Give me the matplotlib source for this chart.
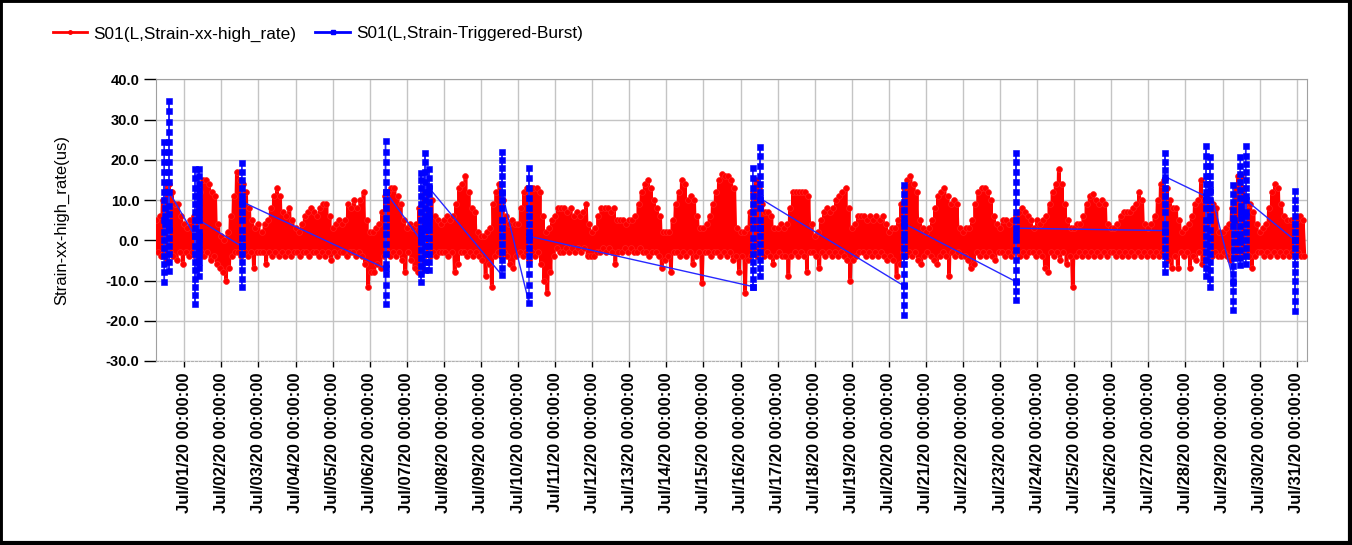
import matplotlib
matplotlib.use('Agg')
import matplotlib.pyplot as plt
import matplotlib.dates as mdates
from matplotlib.lines import Line2D
from matplotlib.patches import Rectangle
from datetime import datetime, timedelta

plt.rcParams['font.family'] = ['Liberation Sans', 'DejaVu Sans']

# --- red series: hourly readings, high at even hours / low at odd hours ---
red_start = datetime(2020, 6, 30, 6)
red_hi = [
    [5, 6, 10, 14, 14, 12, 9, 9, 6],                  # Jun 30 (from 06:00)
    [4, 3, 5, 6, 9, 12, 15, 15, 14, 12, 11, 4],       # Jul 01
    [1, 0, 2, 6, 11, 17, 15, 14, 12, 8, 5, 3],
    [4, 2, 4, 5, 8, 11, 13, 11, 7, 6, 8, 5],
    [3, 2, 4, 6, 7, 8, 7, 6, 8, 9, 9, 6],
    [3, 4, 5, 4, 5, 9, 8, 10, 8, 10, 12, 5],          # Jul 05
    [2, 2, 3, 4, 7, 11, 12, 13, 13, 11, 9, 5],
    [3, 4, 3, 4, 8, 11, 12, 12, 10, 6, 5, 4],
    [5, 6, 5, 6, 9, 13, 14, 16, 12, 8, 7, 2],
    [1, 1, 2, 3, 9, 12, 14, 10, 6, 4, 5, 4],
    [4, 8, 12, 13, 13, 13, 13, 12, 6, 2, 3, 5],       # Jul 10
    [6, 8, 8, 8, 7, 8, 6, 7, 6, 7, 9, 4],
    [2, 3, 6, 8, 8, 8, 7, 8, 5, 5, 5, 4],
    [5, 5, 6, 9, 12, 14, 15, 13, 10, 8, 6, 2],
    [2, 2, 5, 9, 12, 15, 14, 10, 11, 10, 6, 3],
    [3, 4, 6, 9, 12, 15, 16.5, 16, 16, 15, 13, 3],    # Jul 15
    [2, 2, 3, 7, 12, 15, 13, 9, 7, 7, 6, 3],
    [3, 4, 3, 4, 8, 12, 12, 12, 12, 12, 11, 4],
    [1, 2, 5, 7, 8, 7, 8, 10, 11, 12, 13, 8],
    [3, 4, 6, 6, 6, 5, 6, 5, 6, 5, 6, 4],
    [2, 3, 3, 5, 9, 13, 15, 16, 14, 12, 5, 3],        # Jul 20
    [2, 3, 5, 8, 11, 12, 13, 11, 9, 10, 9, 3],
    [2, 3, 3, 5, 9, 12, 13, 13, 12, 10, 6, 4],
    [3, 5, 5, 4, 5, 6, 7, 8, 7, 6, 5, 3],
    [5, 4, 5, 6, 9, 12, 14, 17.7, 14, 9, 5, 3],
    [3, 4, 4, 6, 9, 11, 11.5, 10, 9, 10, 9, 4],       # Jul 25
    [3, 3, 4, 6, 7, 7, 7, 8, 9, 12, 10, 4],
    [3, 4, 6, 10, 14, 15, 13, 10, 8, 8, 5, 2],
    [3, 4, 6, 9, 10, 15, 10, 10, 10, 9, 8, 2],
    [2, 3, 4, 8, 13, 16, 16, 13, 9, 9, 7, 4],
    [2, 3, 4, 8, 12, 14, 13, 9, 6, 5, 5, 5],          # Jul 30
    [5, 6, 5],                                        # Jul 31
]
red_lo = [
    [-3, -4, -3, -5, -3, -4, -5, -3, -6],
    [-3, -4, -3, -4, -5, -3, -4, -3, -5, -4, -6, -7],
    [-8, -10, -7, -4, -3, -3, -4, -3, -4, -3, -7, -3],
    [-3, -3, -6, -3, -4, -3, -4, -3, -4, -3, -4, -3],
    [-3, -4, -3, -3, -4, -3, -3, -4, -3, -4, -3, -5],
    [-3, -4, -3, -3, -4, -3, -3, -4, -3, -4, -6, -11.7],
    [-8, -8, -6, -7, -4, -3, -4, -3, -4, -3, -5, -8],
    [-3, -5, -7, -8, -8, -4, -3, -4, -3, -4, -3, -3],
    [-3, -4, -3, -8, -6, -3, -3, -4, -3, -4, -3, -4],
    [-5, -9, -6, -11.7, -4, -3, -4, -3, -4, -6, -7, -4],
    [-3, -4, -3, -5, -3, -4, -3, -6, -10, -13, -8, -4],
    [-2, -3, -3, -2, -3, -2, -3, -2, -3, -2, -4, -4],
    [-4, -3, -3, -2, -3, -2, -3, -6, -3, -3, -2, -3],
    [-2, -3, -3, -2, -3, -3, -4, -3, -3, -4, -7, -5],
    [-4, -8, -3, -3, -4, -3, -4, -3, -6, -4, -3, -10.6],
    [-3, -3, -4, -3, -3, -4, -3, -4, -3, -5, -4, -8],
    [-4, -13, -5, -4, -3, -4, -3, -4, -3, -4, -6, -4],
    [-3, -4, -4, -9, -4, -3, -4, -3, -4, -8, -3, -3],
    [-4, -7, -3, -4, -3, -4, -3, -4, -3, -4, -5, -10],
    [-5, -4, -3, -3, -4, -3, -4, -3, -4, -3, -4, -5],
    [-4, -5, -9, -6, -3, -4, -3, -4, -3, -5, -6, -4],
    [-3, -4, -5, -6, -4, -3, -4, -9, -3, -4, -3, -4],
    [-4, -5, -7, -6, -3, -4, -3, -4, -3, -4, -5, -3],
    [-3, -4, -3, -4, -3, -3, -4, -3, -4, -3, -3, -4],
    [-3, -4, -7, -8, -3, -4, -3, -5, -3, -6, -4, -11.7],
    [-4, -3, -4, -3, -4, -3, -4, -3, -4, -3, -4, -3],
    [-3, -4, -3, -4, -3, -4, -3, -4, -3, -4, -3, -4],
    [-3, -4, -3, -4, -3, -4, -5, -7, -4, -7, -3, -4],
    [-3, -7, -4, -5, -3, -6, -4, -3, -4, -3, -4, -4],
    [-3, -4, -5, -3, -4, -3, -4, -3, -4, -7, -4, -3],
    [-3, -4, -3, -4, -3, -4, -3, -4, -3, -4, -3, -4],
    [-3, -4, -4],
]

# --- blue triggered bursts: start time and sampled values ---
burst_starts = [
    "2020-06-30 11:04", "2020-06-30 14:05", "2020-07-01 06:56", "2020-07-01 09:30",
    "2020-07-02 13:09", "2020-07-06 10:14", "2020-07-07 09:12", "2020-07-07 11:47",
    "2020-07-07 14:34", "2020-07-09 13:38", "2020-07-10 07:06", "2020-07-16 07:54",
    "2020-07-16 12:37", "2020-07-20 09:37", "2020-07-23 10:19", "2020-07-27 10:47",
    "2020-07-28 13:17", "2020-07-28 15:53", "2020-07-29 06:59", "2020-07-29 11:31",
    "2020-07-29 14:57", "2020-07-30 22:48",
]
burst_vals = [
    [5, 24.5, -10.3, 22, -8, 19.5, -6, 17, -4, 14.5, -2, 12, 0, 10, 2, 8, 4, 6],
    [3, 34.5, -7.7, 32, -5.5, 29.5, -3.5, 27, -1.5, 24.5, 0.5, 22, 2.5, 19.5, 4.5, 17, 6.5, 14.5, 8.5, 12],
    [1, 17.7, -15.8, 15.5, -13.5, 13, -11.5, 11, -9.5, 9, -7.5, 7, -5.5, 5, -3.5, 3, -1.5, 1],
    [1, 17.7, -8.8, 16, -7, 14, -5.5, 12.5, -4, 11, -2.5, 9.5, -1, 8, 0.5, 6.5, 2, 5],
    [-1.5, 19.3, -11.7, 17, -9.5, 15, -7.5, 13, -5.5, 11, -3.5, 9, -1.5, 7, 0.5, 5, 2.5, 9.6],
    [-7, 24.6, -15.8, 22, -13.5, 19.5, -11, 17, -8.5, 14.5, -6, 12, -3.5, 10, -1, 8, 1.5, 5.5, 3.5, 12],
    [0, 16.7, -10.4, 15, -8.5, 13, -6.5, 11, -4.5, 9, -2.5, 7, -0.5, 5, 1.5, 3],
    [3, 21.8, -7.5, 19.5, -5.5, 17, -3.5, 14.5, -1.5, 12, 0.5, 10, 2.5, 8, 4.5, 6],
    [6, 17.7, -7.5, 15.5, -5.5, 13.5, -3.5, 11.5, -1.5, 9.5, 0.5, 7.5, 2.5, 5.5, 4, 12.9],
    [-8.7, 22, -7, 20, -5, 18, -3, 16, -1, 14, 1, 12, 3, 10, 5, 8, 11.7],
    [-15.6, 17.9, -13.5, 15.5, -11, 13, -8.5, 10.5, -6, 8, -4, 6, -2, 4, 0, 2, 1],
    [-11.5, 17.9, -11.7, 15.5, -9.5, 13, -7.5, 11, -5.5, 9, -3.5, 7, -1.5, 5, 0.5, 3],
    [3, 23.3, -8.9, 21, -7, 18.5, -5, 16, -3, 14, -1, 12, 1, 10, 3, 8, 5, 10.4],
    [-11.3, 13.75, -18.5, 11.5, -16, 9.5, -13.5, 7.5, -11, 5.5, -8.5, 3.5, -6, 1.5, -4, 0, -2, 4.2],
    [-10.3, 21.8, -14.75, 19.5, -12.5, 17, -10, 14.5, -7.5, 12, -5, 9.5, -2.5, 7, 0, 5, 1.5, 3],
    [2.4, 21.8, -7.9, 19.5, -6, 17.5, -4, 15, -2, 13, 0, 11, 2, 9, 4, 7, 15.8],
    [10.9, 23.5, -8.9, 21, -7, 18.5, -5, 16, -3, 14, -1, 12, 1, 10, 3, 8, 5],
    [5, 20.6, -11.7, 18.5, -9.5, 16, -7.5, 14, -5.5, 12, -3.5, 10, -1.5, 8, 0.5, 6, 2.5, 12.5],
    [-10, 13.75, -17.4, 11.5, -15, 9.5, -12.5, 7.5, -10.5, 5.5, -8.5, 3.5, -6.5, 1.5, -4.5, -0.5, -2.5, 5],
    [0, 20.6, -6.25, 18.5, -4.5, 16.5, -2.5, 14.5, -0.5, 12.5, 1.5, 10.5, 3.5, 8.5, 5.5, 7],
    [7, 23.5, -6, 21, -4, 19, -2, 17, 0, 15, 2, 13, 4, 11, 6, 10],
    [0, 12.25, -17.5, 10, -15, 8, -12.5, 6, -10, 4, -8, 2, -6, 0, -4, -2],
]
burst_dt = timedelta(seconds=30)

y_ticks = [-30, -20, -10, 0, 10, 20, 30, 40]
red_label = "S01(L,Strain-xx-high_rate)"
blue_label = "S01(L,Strain-Triggered-Burst)"
y_title = "Strain-xx-high_rate(us)"


def build_red():
    vals = []
    for hi, lo in zip(red_hi, red_lo):
        for a, b in zip(hi, lo):
            vals += [a, b]
    times = [red_start + timedelta(hours=i) for i in range(len(vals))]
    return times, vals


def build_blue():
    times, vals = [], []
    for start, seq in zip(burst_starts, burst_vals):
        t0 = datetime.strptime(start, "%Y-%m-%d %H:%M")
        times += [t0 + i * burst_dt for i in range(len(seq))]
        vals += seq
    return times, vals


def main():
    W, H = 1352, 545
    fig = plt.figure(figsize=(W / 100, H / 100), dpi=100)
    ax = fig.add_axes([156 / W, 1 - 361 / H, (1306.7 - 156) / W, (361 - 79.3) / H])

    rt, rv = build_red()
    bt, bv = build_blue()
    ax.plot(rt, rv, color='#ff0000', lw=2.6, marker='o', ms=4.2,
            mec='#ff2020', mew=0.5, zorder=3)
    ax.plot(bt, bv, color='#2828ff', lw=1.0, marker='s', ms=4.4,
            mfc='#0000ff', mec='#0000ff', mew=0.4, zorder=4)

    ax.set_ylim(-30, 40)
    ax.set_yticks(y_ticks)
    ax.set_yticklabels([f"{v:.1f}" for v in y_ticks])
    ax.set_xlim(datetime(2020, 6, 30, 5, 41), datetime(2020, 7, 31, 6, 28))
    ax.xaxis.set_major_locator(mdates.DayLocator())
    ax.xaxis.set_major_formatter(mdates.DateFormatter('%b/%d/%y %H:%M:%S'))

    ax.grid(True, color='#c4c4c4', lw=1.0)
    ax.set_axisbelow(True)
    for s in ['left', 'right', 'top']:
        ax.spines[s].set_color('#a0a0a0')
    ax.spines['bottom'].set_color('#b0b0b0')
    ax.spines['bottom'].set_linestyle((0, (2, 1.5)))

    ax.tick_params(axis='y', length=9, width=1, pad=3, labelsize=10.5, colors='black')
    ax.tick_params(axis='x', length=4, width=1, pad=4, labelsize=12,
                   labelrotation=90, colors='black')
    for lab in ax.get_yticklabels() + ax.get_xticklabels():
        lab.set_fontweight('bold')
    for lab in ax.get_xticklabels():
        lab.set_va('top')

    ax.set_ylabel(y_title, fontsize=12)
    ax.yaxis.set_label_coords((69 - 156) / (1306.7 - 156), 0.5)

    handles = [
        Line2D([], [], color='#ff0000', lw=2, marker='o', ms=2.5),
        Line2D([], [], color='#0000ff', lw=2, marker='s', ms=2.5),
    ]
    fig.legend(handles, [red_label, blue_label], loc='center left',
               bbox_to_anchor=(53 / W, 1 - 34 / H), ncol=2, frameon=False,
               fontsize=12.4, handlelength=2.0, handletextpad=0.35,
               columnspacing=1.1, borderpad=0, borderaxespad=0, numpoints=1)

    # outer black frame
    fig.patches.append(Rectangle((0, 0), 1, 1, transform=fig.transFigure,
                                 fill=False, edgecolor='black', lw=3.5))
    fig.add_artist(Line2D([1 - 2 / W, 1 - 2 / W], [0, 1], transform=fig.transFigure,
                          color='black', lw=3))
    fig.add_artist(Line2D([0, 1], [2 / H, 2 / H], transform=fig.transFigure,
                          color='black', lw=3))

    fig.savefig('out.png', dpi=100)
    plt.close(fig)


if __name__ == '__main__':
    main()
